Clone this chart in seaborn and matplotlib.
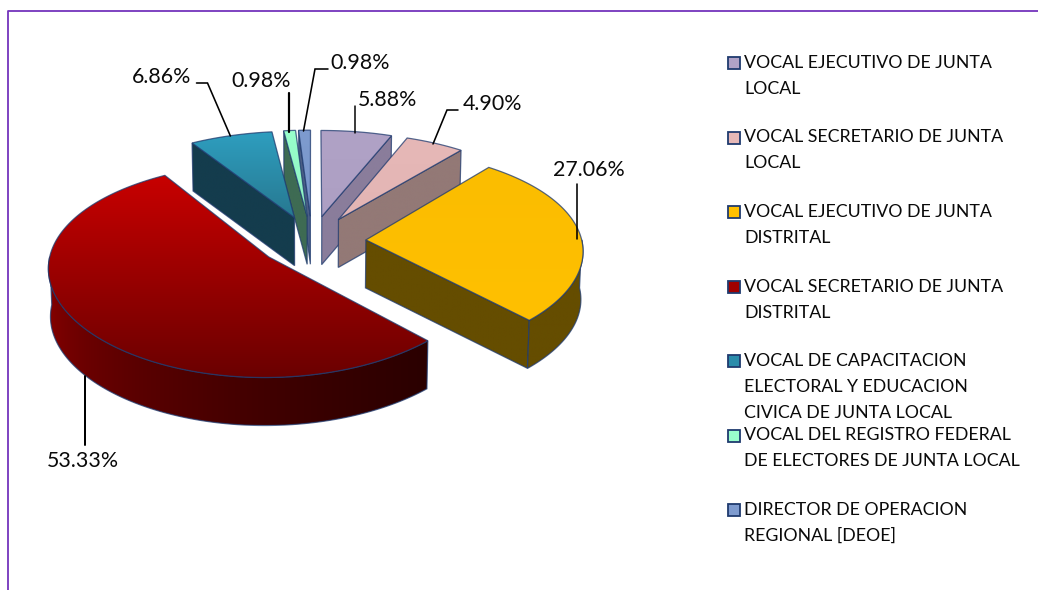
import numpy as np
import matplotlib
matplotlib.use("Agg")
import matplotlib.pyplot as plt
from matplotlib.patches import Polygon, Rectangle
import seaborn as sns

sns.set_theme(style="white")
plt.rcParams['font.family'] = ['Lato', 'DejaVu Sans']

# ── DATA ───────────────────────────────────────────────────
categories = [
    ["VOCAL EJECUTIVO DE JUNTA", "LOCAL"],
    ["VOCAL SECRETARIO DE JUNTA", "LOCAL"],
    ["VOCAL EJECUTIVO DE JUNTA", "DISTRITAL"],
    ["VOCAL SECRETARIO DE JUNTA", "DISTRITAL"],
    ["VOCAL DE CAPACITACION", "ELECTORAL Y EDUCACION", "CIVICA DE JUNTA LOCAL"],
    ["VOCAL DEL REGISTRO FEDERAL", "DE ELECTORES DE JUNTA LOCAL"],
    ["DIRECTOR DE OPERACION", "REGIONAL [DEOE]"],
]
values = [5.88, 4.90, 27.06, 53.33, 6.86, 0.98, 0.98]

top_colors = [("#B0A2C6", "#AD9FC3"), ("#E6B8B7", "#E3B5B4"), ("#FBBD00", "#FFC000"),
              ("#C80000", "#6A0000"), ("#2E9EBF", "#277890"), ("#99FFCC", "#8CF0C0"),
              ("#7E9BCF", "#7896CA")]
wall_colors = ["#8A7D9B", "#937976", "#654D00", "#2B0000", "#143C4D", "#3E6B53", "#4A5E85"]
rim_colors = [("#8A7D9B", "#8A7D9B"), ("#937976", "#937976"), ("#654D00", "#654D00"),
              ("#2B0000", "#8E0000"), ("#143C4D", "#143C4D"), ("#3E6B53", "#3E6B53"),
              ("#4A5E85", "#4A5E85")]
swatch_colors = ["#B0A2C6", "#E6B8B7", "#FFC000", "#A00000", "#2A8CAB", "#99FFCC", "#7E9BCF"]

# label text, text centre, leader line vertices, leader width
pct_labels = [
    ("5.88%", (387.5, 100), [(354.5, 106), (354.5, 133)], 1.5),
    ("4.90%", (492.5, 104), [(458, 110), (447, 110), (433, 144)], 1.6),
    ("27.06%", (588.5, 170), [(577, 184), (577, 239)], 1.6),
    ("53.33%", (83, 461), [(85, 376), (85, 445)], 2.0),
    ("6.86%", (161.5, 77), [(196.5, 83), (207.5, 83), (230.4, 136)], 1.6),
    ("0.98%", (261, 81), [(288.5, 93), (288.5, 132)], 2.2),
    ("0.98%", (360, 63), [(328, 69), (315, 69), (303.5, 131)], 1.6),
]

# ── PROJECTION (tilted, perspective pie) ───────────────────
CX, CY = 312, 241
RX, RY = 216, 102      # pixel radii of the pie before perspective
PERSP_X, PERSP_Y = 0.09, 0.12
EXPLODE = 0.25
DEPTH = 48
BASE_SHRINK = 0.992


def project(x, y):
    return CX + x * RX / (1 + PERSP_X * y), CY - y * RY / (1 + PERSP_Y * y)


def wedge_points(t1, t2, ox, oy):
    ts = np.linspace(t1, t2, max(int(np.degrees(t2 - t1)), 2) + 1)
    px, py = project(ox + np.sin(ts), oy + np.cos(ts))
    return np.column_stack([px, py])


def drop(pts):
    out = np.array(pts, dtype=float)
    out[:, 0] = CX + (out[:, 0] - CX) * BASE_SHRINK
    out[:, 1] = out[:, 1] + DEPTH
    return out


def gradient_poly(ax, pts, c1, c2, z, horizontal=False, power=1.0):
    cmap = sns.blend_palette([c1, c2], as_cmap=True)
    x0, x1 = pts[:, 0].min(), pts[:, 0].max()
    y0, y1 = pts[:, 1].min(), pts[:, 1].max()
    ramp = np.linspace(0, 1, 256) ** power
    grad = ramp.reshape(1, -1) if horizontal else ramp.reshape(-1, 1)
    im = ax.imshow(grad, cmap=cmap, extent=(x0, x1, y1, y0), aspect='auto',
                   zorder=z, interpolation='bilinear', vmin=0, vmax=1)
    poly = Polygon(pts, closed=True, transform=ax.transData, facecolor='none',
                   edgecolor='#1F3A6E', linewidth=0.9, zorder=z + 0.1, alpha=0.75)
    ax.add_patch(poly)
    im.set_clip_path(poly)


fig = plt.figure(figsize=(10.38, 5.90), dpi=100)
ax = fig.add_axes([0, 0, 1, 1])
ax.set_axis_off()

# frame
ax.plot([1038, 7.5, 7.5], [10.5, 10.5, 590], color="#7434BC", lw=1.3, zorder=1)

# ── PIE ────────────────────────────────────────────────────
fracs = np.array(values) / sum(values)
edges = np.concatenate([[0], np.cumsum(fracs)]) * 2 * np.pi
draw_order = [6, 5, 4, 0, 1, 2, 3]

for n, i in enumerate(draw_order):
    t1, t2 = edges[i], edges[i + 1]
    mid = (t1 + t2) / 2
    ox, oy = EXPLODE * np.sin(mid), EXPLODE * np.cos(mid)
    z = 2 + n
    apex = np.array(project(ox, oy))
    arc = wedge_points(t1, t2, ox, oy)

    # radial walls facing the viewer
    if np.sin(t1) < 0:
        wall = np.vstack([apex, arc[0], drop([arc[0]]), drop([apex])])
        gradient_poly(ax, wall, wall_colors[i], wall_colors[i], z)
    if np.sin(t2) > 1e-6:
        wall = np.vstack([apex, arc[-1], drop([arc[-1]]), drop([apex])])
        gradient_poly(ax, wall, wall_colors[i], wall_colors[i], z)

    # outer rim on the front half
    r1, r2 = max(t1, np.pi / 2), min(t2, 3 * np.pi / 2)
    if r2 > r1:
        rim = wedge_points(r1, r2, ox, oy)
        gradient_poly(ax, np.vstack([rim, drop(rim)[::-1]]), rim_colors[i][1], rim_colors[i][0],
                      z + 0.2, horizontal=True, power=0.45)

    # top face
    top = np.vstack([apex, arc])
    gradient_poly(ax, top, top_colors[i][0], top_colors[i][1], z + 0.4)

# ── LABELS AND LEADERS ─────────────────────────────────────
for text, (tx, ty), line, lw in pct_labels:
    xs, ys = zip(*line)
    ax.plot(xs, ys, color='black', lw=lw * 0.72, zorder=20, solid_joinstyle='miter')
    ax.text(tx, ty, text, ha='center', va='center', fontsize=15.4, color='#0A0A0A', zorder=21)

# ── LEGEND ─────────────────────────────────────────────────
for i, lines in enumerate(categories):
    y0 = 63 + 74.5 * i
    ax.add_patch(Rectangle((727.5, y0 - 6), 12, 12, facecolor=swatch_colors[i],
                           edgecolor='#1F3A6E', linewidth=1.3, zorder=5))
    for j, line in enumerate(lines):
        ax.text(744, y0 + j * 26, line, ha='left', va='center', fontsize=12.8, color='#0A0A0A')

ax.set_xlim(0, 1038)
ax.set_ylim(590, 0)
fig.savefig('out.png', dpi=100, facecolor='white')
